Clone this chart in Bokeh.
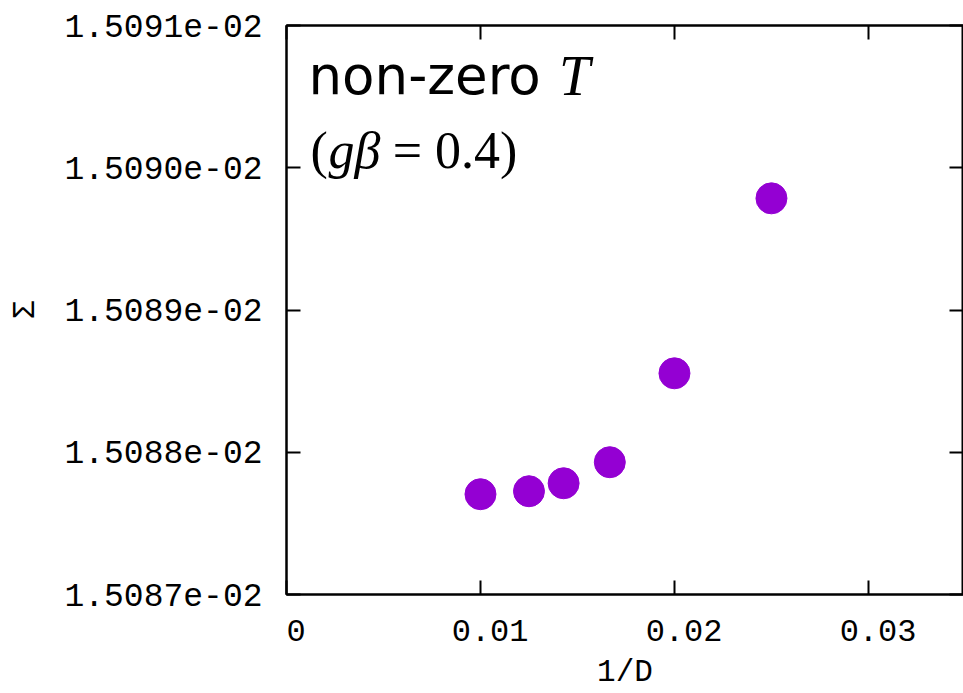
from bokeh.plotting import figure
from bokeh.models import (Range1d, FixedTicker, CustomJSTickFormatter, LinearAxis, Label)
from bokeh.embed import file_html
from bokeh.resources import INLINE

# ---- data ----
inv_D = [1/100, 1/80, 1/70, 1/60, 1/50, 1/40]
energy = [0.015087705, 0.015087726, 0.015087782, 0.015087930, 0.015088555, 0.015089785]
x_ticks = [0, 0.01, 0.02, 0.03]
y_ticks = [0.015087, 0.015088, 0.015089, 0.015090, 0.015091]
x_label = "1/D"
y_label = "Σ"
title_line1 = "non-zero"
title_T = "T"

X0, X1 = 0.0, 0.0349
Y0, Y1 = 0.015087, 0.015091

p = figure(width=963, height=693, output_backend="svg", toolbar_location=None,
           x_range=Range1d(X0, X1), y_range=Range1d(Y0, Y1),
           min_border_left=286, min_border_top=25, min_border_bottom=99, min_border_right=0)
p.background_fill_color = "white"
p.border_fill_color = "white"
p.grid.visible = False
p.outline_line_color = "black"
p.outline_line_width = 2

mono = "Liberation Mono"
fmt_y = CustomJSTickFormatter(code="""
const s = tick.toExponential(4); const parts = s.split('e');
const ex = parseInt(parts[1]); const a = Math.abs(ex);
return parts[0] + 'e' + (ex < 0 ? '-' : '+') + (a < 10 ? '0' + a : '' + a);
""")
fmt_x = CustomJSTickFormatter(code="""
if (Math.abs(tick) < 1e-12) return '\\u00a00';
return '\\u00a0' + tick.toFixed(2);
""")

for ax in p.xaxis:
    ax.ticker = FixedTicker(ticks=x_ticks)
    ax.formatter = fmt_x
for ax in p.yaxis:
    ax.ticker = FixedTicker(ticks=y_ticks)
    ax.formatter = fmt_y

def style(ax):
    ax.axis_line_color = "black"
    ax.axis_line_width = 2
    ax.major_tick_line_color = "black"
    ax.major_tick_line_width = 2
    ax.major_tick_in = 14
    ax.major_tick_out = 0
    ax.minor_tick_line_color = None
    ax.major_label_text_font = mono
    ax.major_label_text_font_size = "32px"
    ax.major_label_text_color = "black"
    ax.axis_label_text_font = mono
    ax.axis_label_text_font_style = "normal"
    ax.axis_label_text_font_size = "31px"
    ax.axis_label_text_color = "black"

for ax in p.xaxis + p.yaxis:
    style(ax)
p.xaxis.axis_label = x_label
p.xaxis.major_label_standoff = 19
p.xaxis.axis_label_standoff = 1
p.yaxis.axis_label = y_label
p.yaxis.major_label_text_font_size = "33px"
p.yaxis.major_label_standoff = 24
p.yaxis.axis_label_standoff = 18

# mirrored ticks on top and right
top = LinearAxis(ticker=FixedTicker(ticks=x_ticks))
right = LinearAxis(ticker=FixedTicker(ticks=y_ticks))
for ax in (top, right):
    style(ax)
    ax.major_label_text_font_size = "0px"
    ax.major_label_standoff = 0
    ax.major_label_text_alpha = 0
p.add_layout(top, "above")
p.add_layout(right, "right")

p.scatter(inv_D, energy, size=31, color="#9400D3", line_color="#9400D3")

def px2x(px):
    return X0 + (px - 287) / (963 - 287) * (X1 - X0)

def py2y(py):
    return Y0 + (594 - py) / (594 - 25) * (Y1 - Y0)

p.add_layout(Label(x=px2x(309), y=py2y(75), text=title_line1, text_font="DejaVu Sans",
                   text_font_size="53px", text_color="black", text_baseline="alphabetic"))
p.add_layout(Label(x=px2x(559), y=py2y(75), text=title_T, text_font="Liberation Serif",
                   text_font_style="italic", text_font_size="56px", text_color="black",
                   text_baseline="alphabetic"))
p.add_layout(Label(x=px2x(311), y=py2y(150), text="(", text_font="Liberation Serif",
                   text_font_size="52px", text_color="black", text_baseline="alphabetic"))
p.add_layout(Label(x=px2x(329), y=py2y(150), text="gβ", text_font="Liberation Serif",
                   text_font_style="italic", text_font_size="52px", text_color="black",
                   text_baseline="alphabetic"))
p.add_layout(Label(x=px2x(393), y=py2y(150), text="= 0.4)", text_font="Liberation Serif",
                   text_font_size="52px", text_color="black", text_baseline="alphabetic"))

open("out.html", "w").write(file_html(p, INLINE))
